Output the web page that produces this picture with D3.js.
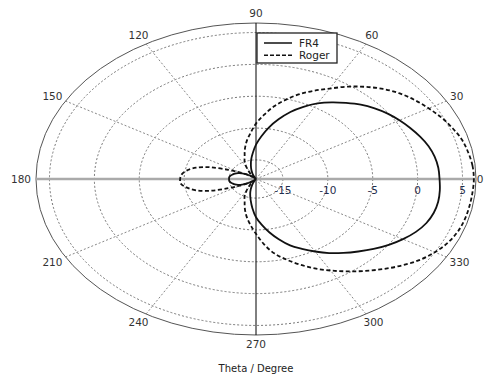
<!DOCTYPE html>
<html>
<head>
<meta charset="utf-8">
<script src="https://cdn.jsdelivr.net/npm/d3@7"></script>
<style>
  html, body { margin: 0; padding: 0; background: #fff; }
  svg { display: block; font-family: "DejaVu Sans", Verdana, sans-serif; }
</style>
</head>
<body>
<svg id="chart" width="484" height="376"></svg>
<script>
// Polar radiation pattern (dB) for two substrates, 5 degree steps
const angles = [0,5,10,15,20,25,30,35,40,45,50,55,60,65,70,75,80,85,90,95,100,105,110,115,120,125,130,135,140,145,150,155,160,165,170,175,
                180,185,190,195,200,205,210,215,220,225,230,235,240,245,250,255,260,265,270,275,280,285,290,295,300,305,310,315,320,325,330,335,340,345,350,355];

const fr4 = [2.44,2.38,2.2,1.9,1.45,0.95,0.45,-0.1,-0.75,-1.5,-2.4,-3.3,-4.3,-5.5,-6.8,-8.3,-9.8,-11.3,-12.6,-13.9,-14.9,-15.8,-16.5,-17.1,-17.6,-17.9,-17.9,-17.6,-17.2,-16.7,-16.2,-15.8,-15.5,-15.3,-15.1,-15.0,
             -15.0,-15.0,-15.1,-15.3,-15.5,-15.8,-16.2,-16.7,-17.2,-17.6,-17.9,-17.9,-17.6,-17.0,-16.3,-15.5,-14.6,-13.4,-12.0,-10.8,-9.5,-8.2,-6.9,-5.9,-4.85,-3.8,-2.85,-1.9,-0.9,0.05,0.9,1.65,2.2,2.5,2.6,2.55];

const roger = [6.26,6.2,6.0,5.75,5.3,4.8,4.2,3.6,2.9,2.0,0.9,-0.3,-1.6,-2.7,-3.8,-5.1,-6.4,-7.9,-9.3,-10.8,-12.0,-13.2,-14.3,-15.0,-15.9,-16.7,-17.2,-17.5,-17.3,-16.8,-15.9,-14.6,-12.6,-11.1,-10.2,-9.7,
               -9.55,-9.6,-10.2,-11.1,-12.6,-14.6,-15.9,-16.8,-17.3,-17.5,-17.2,-16.7,-15.9,-15.0,-14.3,-13.2,-12.0,-10.8,-9.4,-7.7,-6.1,-4.9,-3.7,-2.5,-1.4,-0.3,0.85,2.0,3.15,4.2,5.0,5.6,5.95,6.1,6.15,6.2];

const radialTicks = [-15, -10, -5, 0, 5];
const angleTicks = [0, 30, 60, 90, 120, 150, 180, 210, 240, 270, 300, 330];
const seriesNames = ["FR4", "Roger"];
const axisTitle = "Theta / Degree";

const W = 484;
const svg = d3.select("#chart");
const cx = 256, cy = 179;
const rx = 220, ry = 156;

// radius as a fraction of the outer ellipse
const r = d3.scaleLinear().domain([-18, 6.5]).range([0, 1]).clamp(true);
const toRad = d => d * Math.PI / 180;
const px = (deg, v) => cx + r(v) * rx * Math.cos(toRad(deg));
const py = (deg, v) => cy - r(v) * ry * Math.sin(toRad(deg));

const g = svg.append("g");

// outer boundary
g.append("ellipse").attr("cx", cx).attr("cy", cy).attr("rx", rx).attr("ry", ry)
  .attr("fill", "none").attr("stroke", "#555").attr("stroke-width", 1);

// dotted rings
g.selectAll("ellipse.ring").data(radialTicks).join("ellipse")
  .attr("class", "ring")
  .attr("cx", cx).attr("cy", cy)
  .attr("rx", d => r(d) * rx).attr("ry", d => r(d) * ry)
  .attr("fill", "none").attr("stroke", "#777").attr("stroke-width", 1)
  .attr("stroke-dasharray", "2,2");

// dotted spokes
g.selectAll("line.spoke").data(angleTicks.filter(a => a % 90 !== 0)).join("line")
  .attr("class", "spoke")
  .attr("x1", cx).attr("y1", cy)
  .attr("x2", d => px(d, 6.5)).attr("y2", d => py(d, 6.5))
  .attr("stroke", "#888").attr("stroke-width", 1)
  .attr("stroke-dasharray", "2,2");

// horizontal axis (0 - 180)
g.append("line")
  .attr("x1", px(180, 6.5)).attr("y1", cy).attr("x2", px(0, 6.5)).attr("y2", cy)
  .attr("stroke", "#aaa").attr("stroke-width", 2.5);

// vertical axis (90 - 270)
g.append("line")
  .attr("x1", cx).attr("y1", py(90, 6.5)).attr("x2", cx).attr("y2", py(270, 6.5))
  .attr("stroke", "#000").attr("stroke-width", 1);

// radial tick labels
g.selectAll("text.rtick").data(radialTicks).join("text")
  .attr("class", "rtick")
  .attr("x", d => px(0, d)).attr("y", cy + 15)
  .attr("text-anchor", "middle")
  .attr("font-size", 10.5).attr("fill", "#1f2d4d")
  .text(d => d);

// angle tick labels, placed just outside the boundary
const gap = 5, halfH = 4.5;
g.selectAll("text.atick").data(angleTicks).join("text")
  .attr("class", "atick")
  .attr("font-size", 10.5).attr("fill", "#333")
  .attr("text-anchor", "middle")
  .text(d => d)
  .each(function(d) {
    const w = this.getComputedTextLength();
    const c = Math.cos(toRad(d)), s = Math.sin(toRad(d));
    let x = cx + (rx + gap) * c + (w / 2) * c;
    x = Math.min(x, W - w / 2 - 0.5);
    const y = cy - (ry + gap) * s - halfH * s;
    d3.select(this).attr("x", x).attr("y", y + 3.8);
  });

// pattern curves
const idx = d3.range(angles.length);
const patternLine = values => d3.line()
  .x(i => px(angles[i], values[i]))
  .y(i => py(angles[i], values[i]))
  .curve(d3.curveCatmullRomClosed.alpha(0.5))(idx);

g.append("path").attr("d", patternLine(fr4))
  .attr("fill", "none").attr("stroke", "#111").attr("stroke-width", 1.8);

g.append("path").attr("d", patternLine(roger))
  .attr("fill", "none").attr("stroke", "#111").attr("stroke-width", 1.8)
  .attr("stroke-dasharray", "4,2.5");

// legend
const lg = svg.append("g").attr("transform", "translate(257,33)");
lg.append("rect").attr("width", 80).attr("height", 30)
  .attr("fill", "#fff").attr("stroke", "#222").attr("stroke-width", 1.3);
const dashes = [null, "4,2"];
seriesNames.forEach((name, i) => {
  const yy = 10 + i * 12.3;
  lg.append("line").attr("x1", 7).attr("x2", 35).attr("y1", yy).attr("y2", yy)
    .attr("stroke", "#111").attr("stroke-width", 1.5)
    .attr("stroke-dasharray", dashes[i]);
  lg.append("text").attr("x", 42).attr("y", yy + 3.8)
    .attr("font-size", 10.5).attr("fill", "#222").text(name);
});

// axis title
svg.append("text").attr("x", 256).attr("y", 372)
  .attr("text-anchor", "middle").attr("font-size", 10).attr("fill", "#222")
  .text(axisTitle);
</script>
</body>
</html>
